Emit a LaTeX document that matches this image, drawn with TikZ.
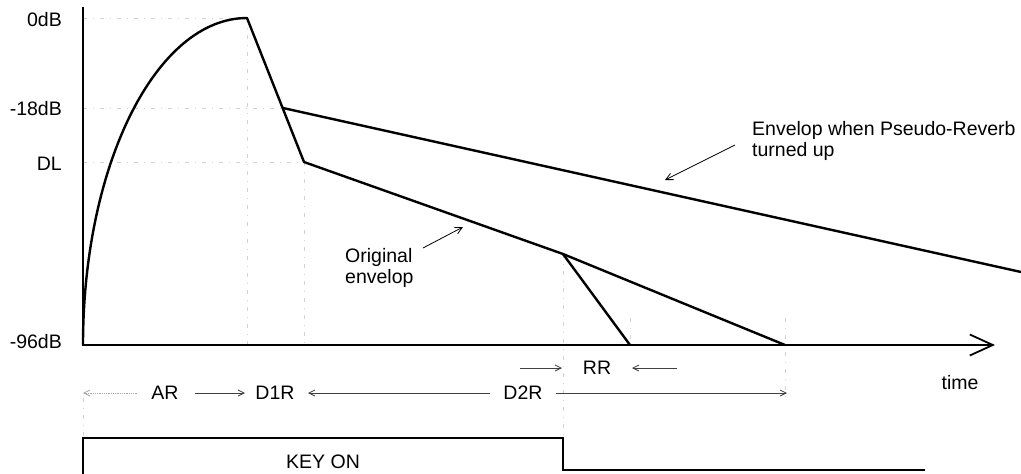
\documentclass[tikz,border=0pt]{standalone}
\usepackage{fontspec}
\setmainfont{Liberation Sans}
\usetikzlibrary{arrows.meta}
\begin{document}
\begin{tikzpicture}[x=1pt,y=-1pt,
  env/.style={line width=2.4pt, line join=round, line cap=round},
  axisline/.style={line width=1.8pt},
  guide/.style={gray!35, line width=0.8pt, dash pattern=on 4pt off 6pt on 1pt off 6pt},
  lbl/.style={font=\fontsize{19.5}{21}\selectfont, inner sep=0pt},
  note/.style={-{Straight Barb[length=7pt,width=7pt]}, line width=0.8pt},
  span/.style={-{Straight Barb[length=6pt,width=6pt]}, line width=0.8pt, black!75},
]
\useasboundingbox (0,0) rectangle (1021,474);

% key points
\coordinate (ytop) at (83,7);
\coordinate (origin) at (83,345);
\coordinate (xend) at (995,345);
\coordinate (peak) at (247,18);
\coordinate (cross) at (283,108);
\coordinate (dl) at (304,162);
\coordinate (rel) at (563,254);
\coordinate (d2end) at (785,345);
\coordinate (rrend) at (630,345);
\coordinate (rvend) at (1021,272);

% faint guides
\draw[guide] (83,18) -- (peak);
\draw[guide] (83,108) -- (cross);
\draw[guide] (83,162) -- (dl);
\draw[guide] (peak) -- (247,345);
\draw[guide] (dl) -- (304,345);
\draw[guide] (rel) -- (563,438);
\draw[guide] (630,318) -- (rrend);
\draw[guide] (785,318) -- (785,398);
\draw[guide] (83,398) -- (83,438);

% axes
\draw[axisline, -{Straight Barb[length=23pt,width=21pt]}] (ytop) -- (origin) -- (xend);

% level labels
\node[lbl, anchor=east] (l0) at (62,20) {0dB};
\node[lbl, anchor=east] (l18) at (62,109) {-18dB};
\node[lbl, anchor=east] (ldl) at (62,163.5) {DL};
\node[lbl, anchor=east] (l96) at (62,342) {-96dB};

% envelopes
\draw[env] (origin) arc[start angle=180, end angle=90, x radius=164pt, y radius=327pt];
\draw[env] (peak) -- (dl) -- (rel) -- (d2end);
\draw[env] (rel) -- (rrend);
\draw[env] (cross) -- (rvend);

% annotations
\node[lbl, anchor=north west, align=left] (orig) at (345,248) {Original\\envelop};
\coordinate (origtail) at (423,248);
\coordinate (origtip) at (463,227);
\draw[note] (origtail) -- (origtip);

\node[lbl, anchor=north west, align=left] (rvb) at (752,121) {Envelop when Pseudo-Reverb\\turned up};
\coordinate (rvbtail) at (735,145);
\coordinate (rvbtip) at (665,180);
\draw[note] (rvbtail) -- (rvbtip);

% time
\node[lbl] (time) at (960,383) {time};

% RR row
\node[lbl] (rr) at (597,368) {RR};
\coordinate (rra) at (520,368);
\coordinate (rrb) at (562,368);
\coordinate (rrc) at (677,368);
\coordinate (rrd) at (632,368);
\draw[span] (rra) -- (rrb);
\draw[span] (rrc) -- (rrd);

% rate row
\node[lbl] (ar) at (165,393) {AR};
\node[lbl] (d1r) at (275,393) {D1R};
\node[lbl] (d2r) at (523,393) {D2R};
\coordinate (t0) at (83,393);
\coordinate (t1) at (245,393);
\coordinate (t2) at (308,393);
\coordinate (t3) at (787,393);
\draw[span, gray!70, densely dotted] ([xshift=-14pt]ar.west) -- (t0);
\draw[span] ([xshift=16pt]ar.east) -- (t1);
\draw[span] ([xshift=-13pt]d2r.west) -- (t2);
\draw[span] ([xshift=13pt]d2r.east) -- (t3);

% key on gate
\draw[axisline] (83,474) -- (83,438) -- (563,438) -- (563,470) -- (925,470);
\node[lbl] (keyon) at (323,462) {KEY ON};
\end{tikzpicture}
\end{document}
